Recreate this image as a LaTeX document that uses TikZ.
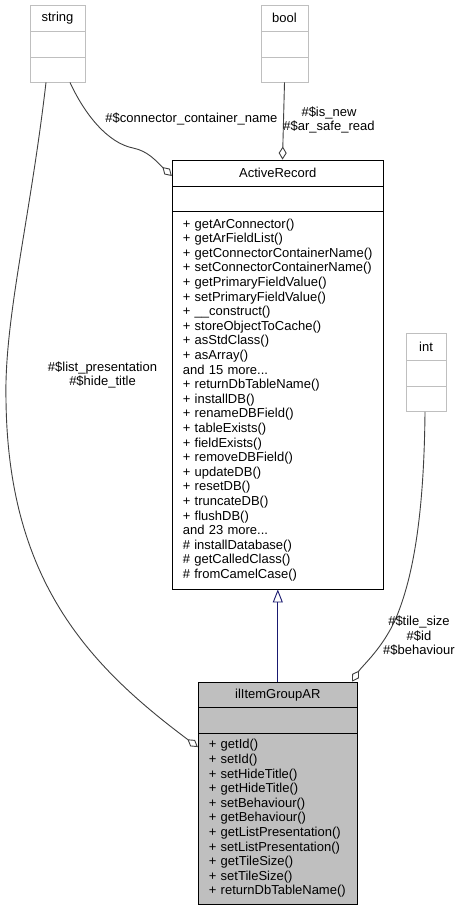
\documentclass[tikz,border=0pt]{standalone}
\usepackage{fontspec}
\setmainfont{Liberation Sans}
\usetikzlibrary{arrows.meta}
\definecolor{edgegray}{HTML}{404040}
\definecolor{boxgray}{HTML}{BFBFBF}
\definecolor{inhblue}{HTML}{191970}
\newcommand{\umlfont}{\fontsize{13}{14.6}\selectfont}
\tikzstyle{cpart}=[rectangle, draw, line width=0.9pt, inner sep=0pt, font=\umlfont]
\tikzstyle{cext}=[rectangle, draw=boxgray, line width=0.9pt, inner sep=0pt, font=\umlfont, minimum height=26pt]
\tikzstyle{cmeth}=[cpart, align=left, inner xsep=10.5pt]
\tikzstyle{agg}=[edgegray, line width=0.9pt, -{Diamond[open, length=13pt, width=8pt]}]
\tikzstyle{inh}=[inhblue, line width=0.9pt, -{Triangle[open, length=13pt, width=10pt]}]
\tikzstyle{elabel}=[font=\umlfont, align=center, inner sep=0pt]

\begin{document}
\begin{tikzpicture}[x=1pt, y=1pt]
\useasboundingbox[fill=white] (0,0) rectangle (459,-911);

\node[cext, minimum width=55pt] (strt) at (57.5,-18) {string};
\node[cext, minimum width=55pt] (strm) at (57.5,-44) {};
\node[cext, minimum width=55pt, minimum height=25pt] (strb) at (57.5,-69.5) {};

\node[cext, minimum width=47pt] (boolt) at (284.5,-18) {bool};
\node[cext, minimum width=47pt] (boolm) at (284.5,-44) {};
\node[cext, minimum width=47pt, minimum height=25pt] (boolb) at (284.5,-69.5) {};

\node[cext, minimum width=40pt, minimum height=27pt] (intt) at (426,-347) {int};
\node[cext, minimum width=40pt] (intm) at (426,-373.5) {};
\node[cext, minimum width=40pt, minimum height=25pt] (intb) at (426,-399) {};

\node[cpart, minimum width=211pt, minimum height=26pt] (arname) at (277.8,-173) {ActiveRecord};
\node[cpart, minimum width=211pt, minimum height=25pt] (arattr) at (277.8,-198.5) {};
\node[cmeth, text width=190pt, minimum height=378pt] (armeth) at (277.8,-400) {%
+ getArConnector()\\
+ getArFieldList()\\
+ getConnectorContainerName()\\
+ setConnectorContainerName()\\
+ getPrimaryFieldValue()\\
+ setPrimaryFieldValue()\\
+ \_\_construct()\\
+ storeObjectToCache()\\
+ asStdClass()\\
+ asArray()\\
and 15 more...\\
+ returnDbTableName()\\
+ installDB()\\
+ renameDBField()\\
+ tableExists()\\
+ fieldExists()\\
+ removeDBField()\\
+ updateDB()\\
+ resetDB()\\
+ truncateDB()\\
+ flushDB()\\
and 23 more...\\
\# installDatabase()\\
\# getCalledClass()\\
\# fromCamelCase()\\[-2pt]};

\node[cpart, fill=boxgray, minimum width=159pt, minimum height=25.3pt] (itname) at (277.8,-694.7) {ilItemGroupAR};
\node[cpart, fill=boxgray, minimum width=159pt, minimum height=26pt] (itattr) at (277.8,-720.3) {};
\node[cmeth, fill=boxgray, text width=138pt, minimum height=171pt] (itmeth) at (277.8,-818.5) {%
+ getId()\\
+ setId()\\
+ setHideTitle()\\
+ getHideTitle()\\
+ setBehaviour()\\
+ getBehaviour()\\
+ getListPresentation()\\
+ setListPresentation()\\
+ getTileSize()\\
+ setTileSize()\\
+ returnDbTableName()};

\draw[inh] (itname.north) -- (armeth.south);

\draw[agg] ([xshift=12.5pt]strb.south) .. controls (85,-115) and (108,-143) .. (133,-148)
  .. controls (148,-151) and (156,-161) .. ([yshift=-3pt]arname.west);
\node[elabel] (lconn) at (191.5,-119) {\#\$connector\_container\_name};

\draw[agg] (boolb.south) -- ([xshift=4.7pt]arname.north);
\node[elabel] (lbool) at (329,-120) {\#\$is\_new\\\#\$ar\_safe\_read};

\draw[agg] ([xshift=-11.5pt]strb.south) .. controls (30,-220) and (4,-320) .. (6,-400)
  .. controls (8,-580) and (88,-665) .. ([yshift=-14.5pt]itmeth.north west);
\node[elabel] (lstr) at (102.5,-375) {\#\$list\_presentation\\\#\$hide\_title};

\draw[agg] ([xshift=-1pt]intb.south) .. controls (424,-520) and (412,-580) .. (396,-618)
  .. controls (383,-648) and (362,-666) .. ([xshift=74.2pt]itname.north);
\node[elabel] (lint) at (419,-636) {\#\$tile\_size\\\#\$id\\\#\$behaviour};

\end{tikzpicture}
\end{document}
